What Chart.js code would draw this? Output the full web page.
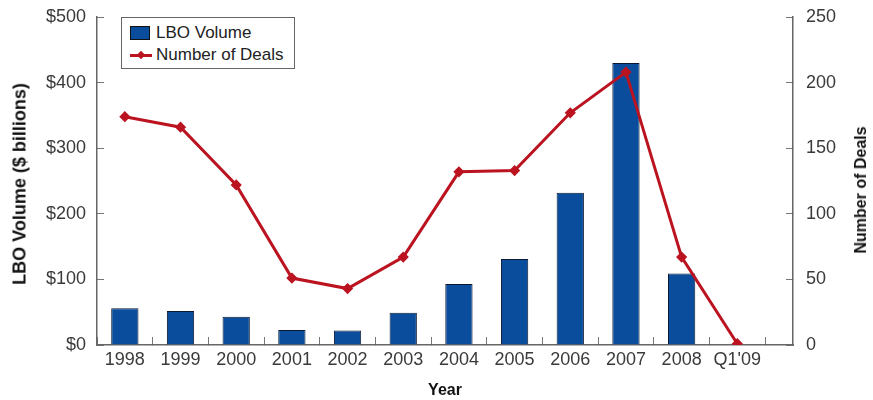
<!DOCTYPE html>
<html>
<head>
<meta charset="utf-8">
<script src="https://cdn.jsdelivr.net/npm/chart.js@4.4.1/dist/chart.umd.min.js"></script>
<style>
  body { margin: 0; background: #fff; }
  #wrap { position: relative; width: 873px; height: 400px; font-family: "Liberation Sans", Arial, sans-serif; }
  .ytitle { position: absolute; font-weight: bold; color: #111; white-space: nowrap;
            transform: translate(-50%, -50%) rotate(-90deg); }
  #legend { position: absolute; left: 121px; top: 17px; width: 172px; height: 50px;
            border: 1px solid #666; background: #fff; font-size: 17px; color: #222; }
  .row { position: absolute; left: 8px; display: flex; align-items: center; line-height: 18px; }
  .swatch { width: 18px; height: 12px; background: #0a4d9c; border: 1px solid #111; margin-right: 6px; }
  .lineKey { position: relative; width: 22px; height: 3px; background: #bb1320; margin-right: 4px; }
  .lineKey span { position: absolute; left: 8px; top: -2px; width: 6px; height: 6px; background: #bb1320; transform: rotate(45deg); }
</style>
</head>
<body>
<div id="wrap">
  <canvas id="c" width="873" height="400"></canvas>
  <div class="ytitle" style="left:20px; top:184px; font-size:18px;">LBO Volume ($ billions)</div>
  <div class="ytitle" style="left:861px; top:190px; font-size:16px;">Number of Deals</div>
  <div id="legend">
    <div class="row" style="top:6px;"><div class="swatch"></div>LBO Volume</div>
    <div class="row" style="top:28px;"><div class="lineKey"><span></span></div>Number of Deals</div>
  </div>
</div>
<script>
// LBO volume and deal count by year
let years = ['1998', '1999', '2000', '2001', '2002', '2003', '2004', '2005', '2006', '2007', '2008', "Q1'09"];
let volume = [56, 52, 43, 23, 22, 49, 93, 131, 232, 430, 109, null];
let deals = [174, 166, 122, 51, 43, 67, 132, 133, 177, 208, 67, 1];
let volumeTicks = [0, 100, 200, 300, 400, 500];
let dealTicks = [0, 50, 100, 150, 200, 250];

let tickFont = { family: '"Liberation Sans", Arial, sans-serif', size: 18 };

function noPad(s) {
  s.paddingTop = 0;
  s.paddingBottom = 0;
  s.paddingLeft = 0;
  s.paddingRight = 0;
}

let config = {
  type: 'bar',
  data: {
    datasets: [{
      type: 'line',
      label: 'Number of Deals',
      data: deals.map((v, i) => ({ x: i, y: v })),
      yAxisID: 'y2',
      borderColor: '#bb1320',
      backgroundColor: '#bb1320',
      borderWidth: 3,
      pointStyle: 'rectRot',
      pointRadius: 3.5,
      tension: 0,
      order: 0
    }, {
      label: 'LBO Volume',
      data: volume.map((v, i) => ({ x: i, y: v })),
      yAxisID: 'y',
      backgroundColor: '#0a4d9c',
      borderColor: '#0b1a33',
      borderWidth: 1,
      categoryPercentage: 1,
      barPercentage: 0.49,
      order: 1
    }]
  },
  options: {
    responsive: false,
    animation: false,
    layout: { padding: { top: 17, left: 0, right: 0, bottom: 0 } },
    plugins: { legend: { display: false }, tooltip: { enabled: false } },
    scales: {
      x: {
        type: 'linear',
        offset: false,
        min: -0.5,
        max: 12,
        afterBuildTicks: s => { s.ticks = years.map((y, i) => ({ value: i })); },
        afterFit: s => { s.height = 55; noPad(s); },
        grid: { drawOnChartArea: false, offset: true, tickLength: -8, color: '#777' },
        border: { color: '#666', width: 1.5 },
        ticks: { font: tickFont, color: '#3a3a3a', padding: 12, maxRotation: 0, autoSkip: false,
                 callback: v => years[v] },
        title: { display: true, text: 'Year', color: '#111',
                 font: { family: '"Liberation Sans", Arial, sans-serif', size: 16, weight: 'bold' },
                 padding: { top: 0, bottom: 0 } }
      },
      y: {
        position: 'left',
        min: 0,
        max: 500,
        afterBuildTicks: s => { s.ticks = volumeTicks.map(v => ({ value: v })); },
        afterFit: s => { s.width = 97; noPad(s); },
        grid: { drawOnChartArea: false, tickLength: -7, color: '#777' },
        border: { color: '#666', width: 1.5 },
        ticks: { font: tickFont, color: '#3a3a3a', padding: 18, callback: v => '$' + v }
      },
      y2: {
        position: 'right',
        min: 0,
        max: 250,
        afterBuildTicks: s => { s.ticks = dealTicks.map(v => ({ value: v })); },
        afterFit: s => { s.width = 80; noPad(s); },
        grid: { drawOnChartArea: false, tickLength: -7, color: '#777' },
        border: { color: '#666', width: 1.5 },
        ticks: { font: tickFont, color: '#3a3a3a', padding: 20 }
      }
    }
  }
};

let chart = new Chart(document.getElementById('c'), config);
</script>
</body>
</html>
